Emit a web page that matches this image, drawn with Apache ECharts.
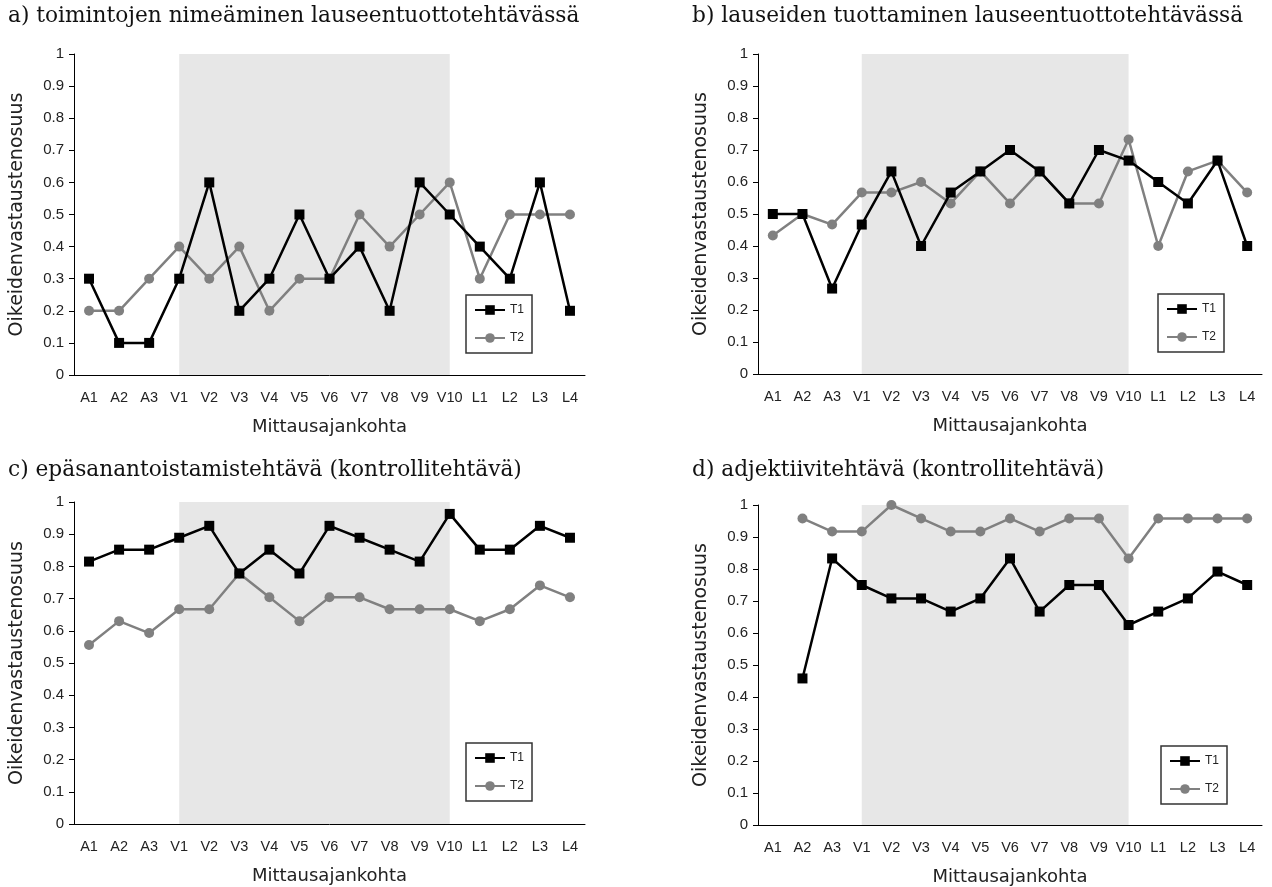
<!DOCTYPE html>
<html><head><meta charset="utf-8">
<script src="https://cdn.jsdelivr.net/npm/echarts@6/dist/echarts.min.js"></script>
<style>html,body{margin:0;padding:0;background:#fff}#c{width:1272px;height:887px}</style>
</head><body><div id="c"></div>
<script>
const categories = ['A1','A2','A3','V1','V2','V3','V4','V5','V6','V7','V8','V9','V10','L1','L2','L3','L4'];
const titles = [
  'a) toimintojen nimeäminen lauseentuottotehtävässä',
  'b) lauseiden tuottaminen lauseentuottotehtävässä',
  'c) epäsanantoistamistehtävä (kontrollitehtävä)',
  'd) adjektiivitehtävä (kontrollitehtävä)'
];
const a_T1 = [0.3,0.1,0.1,0.3,0.6,0.2,0.3,0.5,0.3,0.4,0.2,0.6,0.5,0.4,0.3,0.6,0.2];
const a_T2 = [0.2,0.2,0.3,0.4,0.3,0.4,0.2,0.3,0.3,0.5,0.4,0.5,0.6,0.3,0.5,0.5,0.5];
const b_T1 = [0.5,0.5,0.267,0.467,0.633,0.4,0.567,0.633,0.7,0.633,0.533,0.7,0.667,0.6,0.533,0.667,0.4];
const b_T2 = [0.433,0.5,0.467,0.567,0.567,0.6,0.533,0.633,0.533,0.633,0.533,0.533,0.733,0.4,0.633,0.667,0.567];
const c_T1 = [0.815,0.852,0.852,0.889,0.926,0.778,0.852,0.778,0.926,0.889,0.852,0.815,0.963,0.852,0.852,0.926,0.889];
const c_T2 = [0.556,0.63,0.593,0.667,0.667,0.778,0.704,0.63,0.704,0.704,0.667,0.667,0.667,0.63,0.667,0.741,0.704];
const d_T1 = [null,0.458,0.833,0.75,0.708,0.708,0.667,0.708,0.833,0.667,0.75,0.75,0.625,0.667,0.708,0.792,0.75];
const d_T2 = [null,0.958,0.917,0.917,1.0,0.958,0.917,0.917,0.958,0.917,0.958,0.958,0.833,0.958,0.958,0.958,0.958];
const shadeStart = 'V1', shadeEnd = 'V10';
const yName = 'Oikeidenvastaustenosuus';
const xName = 'Mittausajankohta';

const panels = [[a_T1,a_T2],[b_T1,b_T2],[c_T1,c_T2],[d_T1,d_T2]];
const grids = [
  {left:74, top:54, width:511, height:321},
  {left:758, top:54, width:504, height:320},
  {left:74, top:502, width:511, height:322},
  {left:758, top:505, width:504, height:320}
];
const titlePos = [{left:8,top:5},{left:692,top:5},{left:8,top:459},{left:692,top:459}];
const legendPos = [{left:466,top:295},{left:1158,top:294},{left:466,top:743},{left:1161,top:746}];
const tickFont = 'Liberation Sans';
const option = {
  animation:false,
  backgroundColor:'#fff',
  title: titles.map((t,i)=>({text:t, left:titlePos[i].left, top:titlePos[i].top, padding:0,
    textStyle:{fontFamily:'DejaVu Serif', fontSize:21.7, fontWeight:'normal', color:'#111'}})),
  grid: grids,
  legend: legendPos.map((p,i)=>({left:p.left, top:p.top, orient:'vertical', data:['T1','T2'],
    borderColor:'#333', borderWidth:1.5, backgroundColor:'#fff', padding:[9,8], itemGap:16,
    itemWidth:30, itemHeight:12, selectedMode:false,
    textStyle:{fontFamily:tickFont, fontSize:12, color:'#222'}})),
  xAxis: grids.map((g,i)=>({type:'category', gridIndex:i, data:categories, boundaryGap:true,
    name:xName, nameLocation:'middle', nameGap:43,
    nameTextStyle:{fontFamily:'DejaVu Sans', fontSize:18, color:'#222'},
    axisLine:{lineStyle:{color:'#000', width:1}},
    axisTick:{alignWithLabel:true, length:5, lineStyle:{color:'#000'}},
    axisLabel:{interval:0, margin:15, fontFamily:tickFont, fontSize:14.5, color:'#222'},
    splitLine:{show:false}})),
  yAxis: grids.map((g,i)=>({type:'value', gridIndex:i, min:0, max:1, interval:0.1,
    name:yName, nameLocation:'middle', nameGap:47,
    nameTextStyle:{fontFamily:'DejaVu Sans', fontSize:19, color:'#222'},
    axisLine:{show:true, lineStyle:{color:'#000', width:1}},
    axisTick:{show:true, length:5, lineStyle:{color:'#000'}},
    axisLabel:{margin:10, fontFamily:tickFont, fontSize:15, color:'#222'},
    splitLine:{show:false}})),
  series: []
};
panels.forEach((p,i)=>{
  option.series.push({name:'T1', type:'line', xAxisIndex:i, yAxisIndex:i, data:p[0],
    symbol:'rect', symbolSize:10, connectNulls:false, z:4,
    lineStyle:{color:'#000', width:2.5}, itemStyle:{color:'#000'},
    markArea:{silent:true, itemStyle:{color:'#e7e7e7'},
      data:[[{xAxis:shadeStart, yAxis:0},{xAxis:shadeEnd, yAxis:1}]]}});
  option.series.push({name:'T2', type:'line', xAxisIndex:i, yAxisIndex:i, data:p[1],
    symbol:'circle', symbolSize:10, z:3,
    lineStyle:{color:'#808080', width:2.5}, itemStyle:{color:'#808080'}});
});
echarts.init(document.getElementById('c')).setOption(option);
</script></body></html>
